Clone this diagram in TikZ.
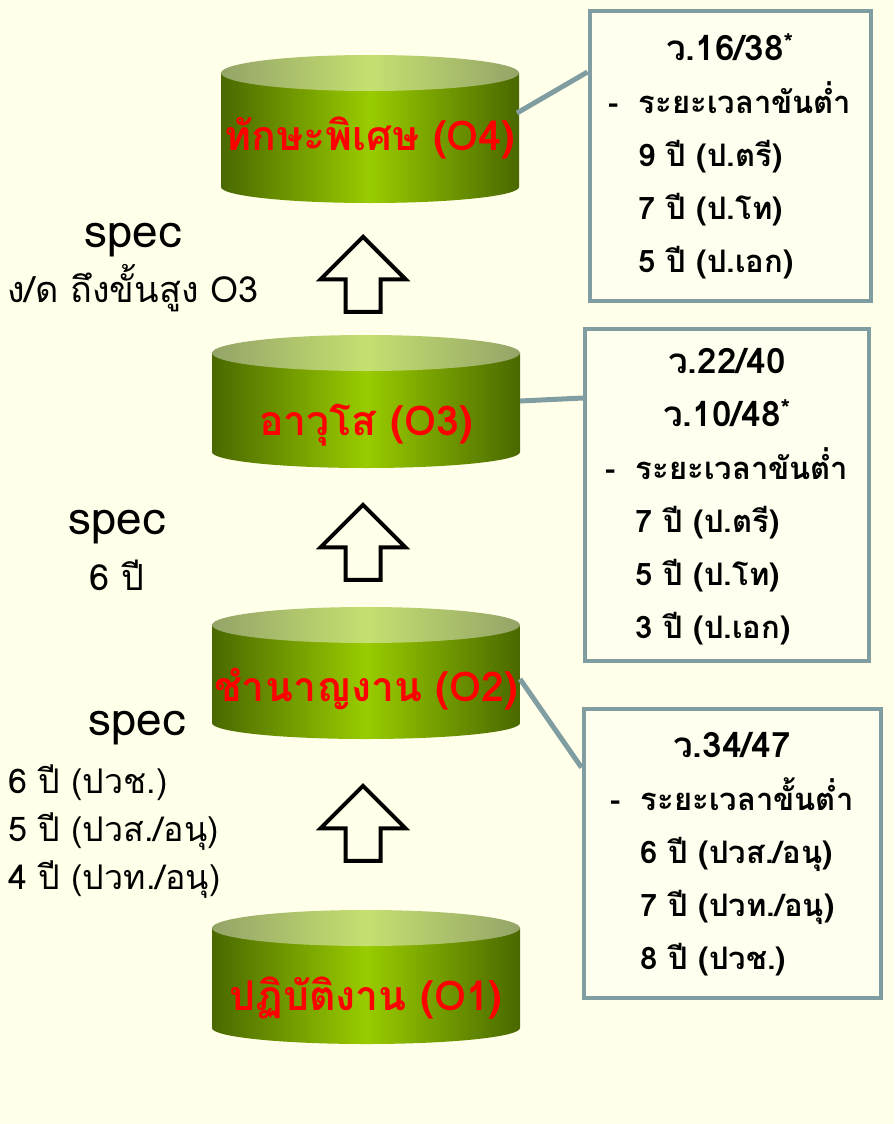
\documentclass[tikz,border=0pt]{standalone}
\usepackage{fontspec}
\setmainfont[Script=Thai]{Loma}
\usepackage{tikz}
\usetikzlibrary{shapes.arrows}
\definecolor{bgcream}{RGB}{255,255,234}
\definecolor{boxcream}{RGB}{255,255,240}
\definecolor{linkgray}{RGB}{128,158,162}
\definecolor{olivedark}{RGB}{74,104,0}
\definecolor{olivelite}{RGB}{153,204,0}
\definecolor{topdark}{RGB}{148,164,104}
\definecolor{toplite}{RGB}{198,224,112}
\tikzstyle{tierlabel}=[text=red,inner sep=0pt,font=\fontsize{41}{44}\selectfont\bfseries]
\tikzstyle{lvlbox}=[draw=linkgray,line width=4pt,fill=boxcream,inner sep=0pt,font=\fontsize{31}{53}\selectfont\bfseries]
\tikzstyle{link}=[draw=linkgray,line width=5pt]
\tikzstyle{uparrow}=[single arrow,draw=black,line width=4pt,rotate=90,anchor=tip,minimum height=75pt,inner xsep=0pt,inner ysep=15.5pt,single arrow head extend=25pt]
\tikzstyle{spec}=[inner sep=0pt,anchor=base,font=\fontsize{46}{50}\selectfont]
\tikzstyle{note}=[inner sep=0pt,anchor=base,font=\fontsize{36}{40}\selectfont]
\newcommand{\ruletitle}[1]{\multicolumn{2}{c}{\fontsize{35}{53}\selectfont #1}}
% one green level: name, centre x, top y, bottom y, half width, label baseline, label
\newcommand{\tier}[7]{%
  \shade[left color=olivedark,right color=olivedark,middle color=olivelite]
    (#2-#5,#3) -- (#2-#5,#4) arc[start angle=180,end angle=0,x radius=#5,y radius=16] -- (#2+#5,#3) -- cycle;
  \shade[left color=topdark,right color=topdark,middle color=toplite]
    (#2,#3) ellipse[x radius=#5,y radius=18];
  \node[tierlabel,anchor=base] (#1) at (#2,#6) {#7};
}
\begin{document}
\begin{tikzpicture}[x=1pt,y=-1pt]
  \fill[bgcream] (0,0) rectangle (894,1124);
  % levels
  \tier{o4}{370}{73}{187}{149}{150}{ทักษะพิเศษ (O4)}
  \tier{o3}{366}{353}{452}{154}{435}{อาวุโส (O3)}
  \tier{o2}{366}{625}{723}{154}{701}{ชำนาญงาน (O2)}
  \tier{o1}{366}{928}{1028}{154}{1010}{ปฏิบัติงาน (O1)}
  \coordinate (o4r) at (517,113);
  \coordinate (o3r) at (520,401);
  \coordinate (o2r) at (520,679);
  % arrows
  \node[uparrow] (up4) at (363,234) {};
  \node[uparrow] (up3) at (363,502) {};
  \node[uparrow] (up2) at (363,783) {};
  % rule boxes
  \node[lvlbox,minimum width=281,minimum height=290] (b4) at (730,156) {%
    \begin{tabular}{@{}l@{\hspace{20pt}}l@{}}
      \ruletitle{ว.16/38\textsuperscript{*}}\\
      - & ระยะเวลาขันต่ำ\\
        & 9 ปี (ป.ตรี)\\
        & 7 ปี (ป.โท)\\
        & 5 ปี (ป.เอก)
    \end{tabular}};
  \node[lvlbox,minimum width=284,minimum height=332] (b3) at (727,495) {%
    \begin{tabular}{@{}l@{\hspace{20pt}}l@{}}
      \ruletitle{ว.22/40}\\
      \ruletitle{ว.10/48\textsuperscript{*}}\\
      - & ระยะเวลาขันต่ำ\\
        & 7 ปี (ป.ตรี)\\
        & 5 ปี (ป.โท)\\
        & 3 ปี (ป.เอก)
    \end{tabular}};
  \node[lvlbox,minimum width=297,minimum height=289] (b2) at (732,853) {%
    \begin{tabular}{@{}l@{\hspace{20pt}}l@{}}
      \ruletitle{ว.34/47}\\
      - & ระยะเวลาขั้นต่ำ\\
        & 6 ปี (ปวส./อนุ)\\
        & 7 ปี (ปวท./อนุ)\\
        & 8 ปี (ปวช.)
    \end{tabular}};
  \draw[link] (o4r) -- ([yshift=-63pt]b4.north west);
  \draw[link] (o3r) -- ([yshift=-71pt]b3.north west);
  \draw[link] (o2r) -- ([yshift=-61pt]b2.north west);
  % left notes
  \node[spec] (spec4) at (133,247) {spec};
  \node[note] (req4) at (133,302) {ง/ด ถึงขั้นสูง O3};
  \node[spec] (spec3) at (117,534) {spec};
  \node[note] (req3) at (117,590) {6 ปี};
  \node[spec] (spec2) at (137,735) {spec};
  \foreach \txt [count=\i] in {6 ปี (ปวช.),5 ปี (ปวส./อนุ),4 ปี (ปวท./อนุ)}
    \node[note,anchor=base west,font=\fontsize{34}{38}\selectfont] (yr\i) at (8,{745+48*\i}) {\txt};
\end{tikzpicture}
\end{document}
